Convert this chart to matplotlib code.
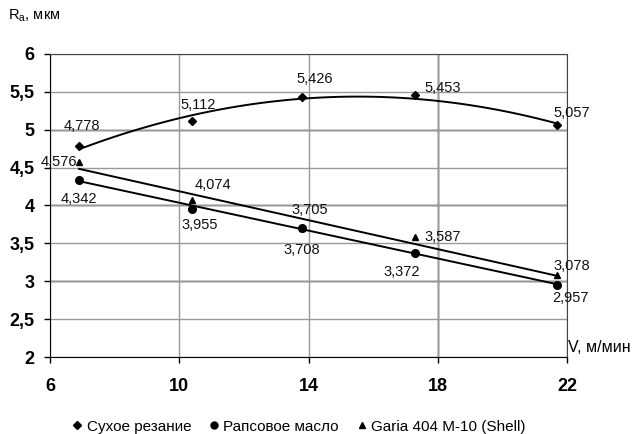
import numpy as np
import matplotlib
matplotlib.use("Agg")
import matplotlib.pyplot as plt
from matplotlib.lines import Line2D

plt.rcParams['font.family'] = ['Liberation Sans', 'DejaVu Sans']

# скорость резания, м/мин
V = [6.9, 10.4, 13.8, 17.3, 21.7]
# шероховатость Ra, мкм
dry = [4.778, 5.112, 5.426, 5.453, 5.057]
rapeseed = [4.342, 3.955, 3.708, 3.372, 2.957]
garia = [4.576, 4.074, 3.705, 3.587, 3.078]
names = ['Сухое резание', 'Рапсовое масло', 'Garia 404 M-10 (Shell)']

# смещения подписей (пиксели) и выравнивание
dry_off = [(3, 20, 'center'), (6, 16, 'center'), (13, 18, 'center'), (9, 7, 'left'), (-4, 12, 'left')]
rap_off = [(0, -19, 'center'), (7, -16, 'center'), (0, -22, 'center'), (-14, -19, 'center'), (13, -13, 'center')]
gar_off = [(-2, 0, 'right'), (21, 15, 'center'), (8, 18, 'center'), (9, 0, 'left'), (-4, 9, 'left')]

fig = plt.figure(figsize=(6.33, 4.34), dpi=100)
ax = fig.add_axes([0.079, 0.177, 0.817, 0.699])

def fmt(v):
    return ('%.3f' % v).replace('.', ',')

def draw(y, marker, ms, deg, offs):
    c = np.polyfit(V, y, deg)
    xx = np.linspace(V[0], V[-1], 100)
    ax.plot(xx, np.polyval(c, xx), color='black', lw=1.4, zorder=3)
    ax.plot(V, y, linestyle='none', marker=marker, ms=ms, color='black', zorder=4)
    for x, v, (dx, dy, ha) in zip(V, y, offs):
        ax.annotate(fmt(v), (x, v), xytext=(dx, dy), textcoords='offset pixels',
                    ha=ha, va='center', fontsize=10.5, color='#111111', zorder=5)

draw(dry, 'D', 4.5, 2, dry_off)
draw(garia, '^', 5, 1, gar_off)
draw(rapeseed, 'o', 5.5, 1, rap_off)

ax.set_xlim(6, 22)
ax.set_ylim(2, 6)
ax.set_xticks([6, 10, 14, 18, 22])
ax.set_yticks([2, 2.5, 3, 3.5, 4, 4.5, 5, 5.5, 6])
ax.set_yticklabels(['2', '2,5', '3', '3,5', '4', '4,5', '5', '5,5', '6'])
ax.tick_params(labelsize=13, length=4, width=1, pad=7)
for lab in ax.get_xticklabels() + ax.get_yticklabels():
    lab.set_fontweight('bold')
ax.tick_params(axis='x', pad=11)

ax.grid(True, color='#999999', lw=1)
for yv in [3, 4, 5]:
    ax.axhline(yv, color='#222222', lw=1, zorder=1)
ax.axvline(18, color='#222222', lw=1, zorder=1)
for s in ax.spines.values():
    s.set_color('#444444')
ax.spines['left'].set_color('black')
ax.spines['bottom'].set_color('black')

fig.text(0.013, 0.965, 'R$_\\mathregular{a}$, мкм', fontsize=10.5, ha='left', va='center')
fig.text(0.897, 0.2, 'V, м/мин', fontsize=11.5, ha='left', va='center')

handles = [Line2D([], [], ls='none', marker='D', ms=4, color='black'),
           Line2D([], [], ls='none', marker='o', ms=5, color='black'),
           Line2D([], [], ls='none', marker='^', ms=5, color='black')]
fig.legend(handles, names, loc='center', bbox_to_anchor=(0.47, 0.017), ncol=3,
           frameon=False, fontsize=11, handletextpad=0.1, columnspacing=1.0,
           handlelength=1.0)

fig.savefig('out.png', dpi=100)
